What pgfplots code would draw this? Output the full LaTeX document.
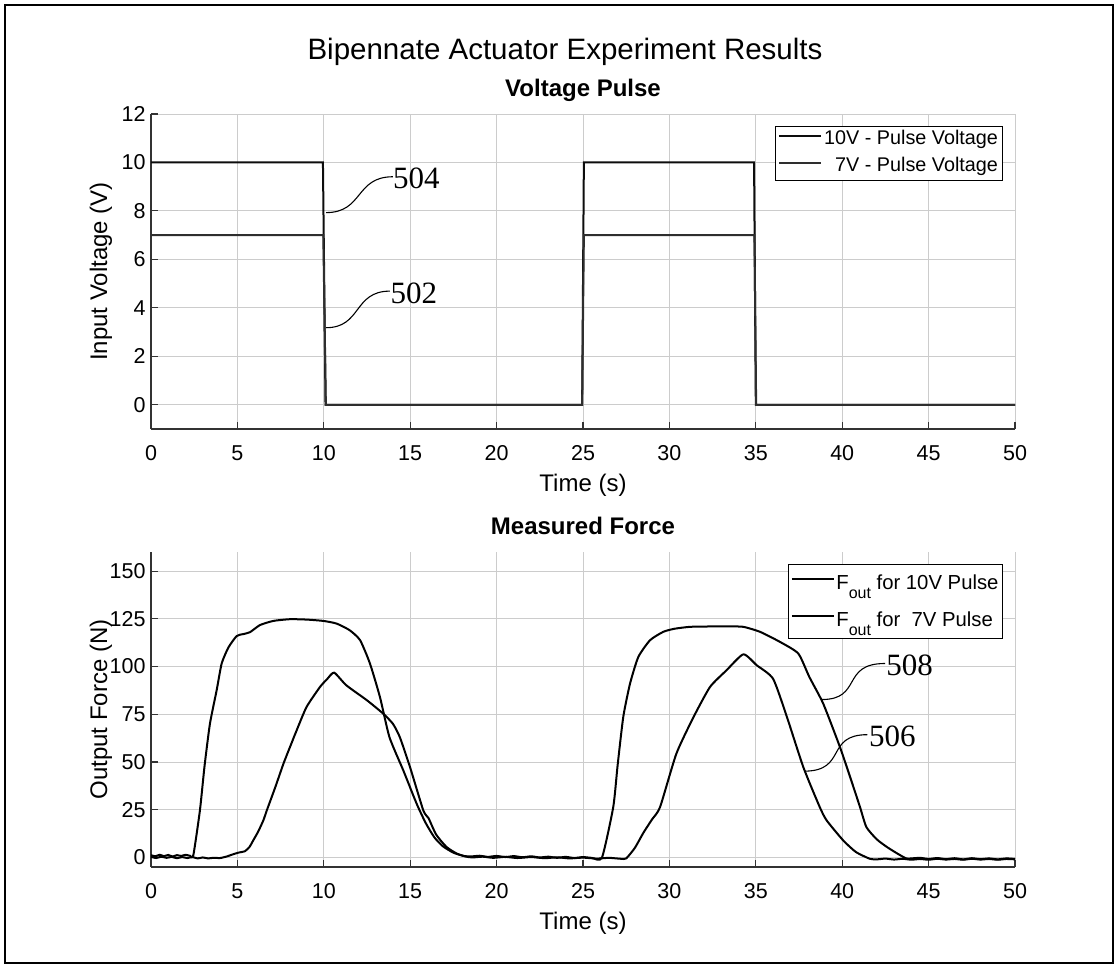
\documentclass[border=0pt]{standalone}
\usepackage{fontspec}
\setmainfont{Liberation Sans}
\newfontfamily\annofont{Liberation Serif}
\usepackage{pgfplots}
\pgfplotsset{compat=1.18}
\pgfplotsset{
 mybase/.style={
  scale only axis, width=864pt, height=315pt,
  xmin=0, xmax=50, xtick={0,5,...,50},
  axis x line*=bottom, axis y line*=left,
  axis line style={color=black!80, line width=1.1pt},
  grid=major, major grid style={color=black!20, line width=0.9pt},
  tick align=inside, major tick length=7pt,
  every tick/.style={color=black!80, line width=1.1pt},
  /pgf/number format/assume math mode=true,
  ticklabel style={font=\fontsize{21.5}{22}\selectfont, color=black},
  xticklabel style={anchor=base, yshift=-32pt},
  yticklabel style={xshift=-2pt},
  xlabel style={font=\fontsize{24}{24}\selectfont, at={(axis description cs:0.5,0)}, anchor=base, yshift=-63pt},
  ylabel style={font=\fontsize{24}{24}\selectfont, at={(axis description cs:-0.0579,0.5)}, anchor=center},
  title style={font=\bfseries\fontsize{24}{24}\selectfont, at={(axis description cs:0.5,1)}, anchor=base, yshift=11pt},
  legend image code/.code={\draw[#1, line width=2pt] (0pt,0.35em) -- (42pt,0.35em);},
 }
}
\begin{document}
\begin{tikzpicture}
\path[use as bounding box] (0pt,0pt) rectangle (1118pt,968pt);
\draw[line width=2.5pt] (5pt,5pt) rectangle (1113pt,963pt);
\node[font=\fontsize{29.5}{30}\selectfont, anchor=base] at (565pt,908pt) {Bipennate Actuator Experiment Results};

% ---------------- Voltage Pulse ----------------
\begin{axis}[mybase,
  at={(151pt,539pt)}, anchor=south west,
  ymin=-1, ymax=12, ytick={0,2,...,12},
  title={Voltage Pulse},
  xlabel={Time (s)}, ylabel={Input Voltage (V)},
  legend cell align=right,
  legend style={at={(rel axis cs:1,1)}, anchor=north east, xshift=-12pt, yshift=-12pt,
    draw=black, line width=1pt, font=\fontsize{19.8}{20}\selectfont,
    inner xsep=2.5pt, inner ysep=0pt,
    nodes={inner xsep=2pt, inner ysep=3.5pt, text height=15pt, text depth=5pt}},
]
\addplot[color=black!95, line width=2pt] coordinates {
(0,10) (9.95,10) (10.1,0) (24.95,0) (25.05,10) (34.9,10) (35.0,0) (50,0)};
\addlegendentry{10V - Pulse Voltage}
\addplot[color=black!82, line width=2pt] coordinates {
(0,7) (9.97,7) (10.12,0) (24.95,0) (25.05,7) (34.92,7) (35.02,0) (50,0)};
\addlegendentry{7V - Pulse Voltage}
\draw[line width=1.1pt] (axis cs:10.13,7.93) .. controls (axis cs:12.3,7.93) and (axis cs:11.8,9.41) .. (axis cs:14.0,9.41);
\node[anchor=west, inner sep=0pt, font=\annofont\fontsize{31}{31}\selectfont] at (axis cs:14.0,9.35) {504};
\draw[line width=1.1pt] (axis cs:10.13,3.18) .. controls (axis cs:12.2,3.18) and (axis cs:11.7,4.69) .. (axis cs:13.83,4.69);
\node[anchor=west, inner sep=0pt, font=\annofont\fontsize{31}{31}\selectfont] at (axis cs:13.85,4.6) {502};
\end{axis}

% ---------------- Measured Force ----------------
\begin{axis}[mybase,
  at={(151pt,101pt)}, anchor=south west,
  ymin=-5, ymax=160, ytick={0,25,...,150},
  title={Measured Force},
  xlabel={Time (s)}, ylabel={Output Force (N)},
  legend cell align=left,
  legend style={at={(rel axis cs:1,1)}, anchor=north east, xshift=-12pt, yshift=-12pt,
    draw=black, line width=1pt, font=\fontsize{20.3}{21}\selectfont,
    inner xsep=2.5pt, inner ysep=0pt,
    nodes={inner xsep=1.5pt, inner ysep=1.5pt, text height=24pt, text depth=10pt}},
]
\addplot[color=black, line width=2pt, smooth, tension=0.35] coordinates {
(0,1.2)(0.25,0.6)(0.5,1.4)(0.75,0.7)(1,1.3)(1.25,0.5)(1.5,1.2)(1.75,0.8)(2,1.4)(2.25,0.9)(2.45,1.2)
(2.83,24.6)(3.1,48)(3.41,70)(3.8,87.6)(4.09,101.6)(4.48,110)(4.96,116)(5.34,117)(5.73,118)(6.3,121.7)
(7.08,123.9)(8.04,124.8)(9.0,124.6)(9.97,123.9)(10.74,122.5)(11.5,119)(12.1,113.8)(12.67,101.6)
(13.25,84)(13.8,63)(14.6,45.6)(15.38,28)(15.9,18)(16.4,10.5)(16.9,5.8)(17.5,2.5)(18.1,0.8)(18.5,0.5)
(19,0.9)(19.5,0.3)(20,0.8)(20.5,0.2)(21,0.7)(21.5,0.1)(22,0.6)(22.5,0)(23,0.4)(23.5,-0.2)(24,0.3)
(24.5,-0.3)(25,0.2)(25.5,-0.2)(26.1,0)
(26.75,26.4)(27.0,48)(27.33,73.6)(27.72,91)(28.2,105)(28.88,113.8)(29.65,118.2)(30.3,119.8)(31.2,120.8)
(32.5,121)(33.5,121)(34.28,120.8)(35.24,118.2)(36.4,112.9)(37.46,106.8)(38.1,94.5)(38.9,80.6)
(39.87,57.8)(40.5,41)(41.03,26.4)(41.4,15.9)(42.0,9.5)(42.6,5.4)(43.2,2)(43.7,-0.5)(44,-0.5)
(44.5,-0.2)(45,-0.8)(45.5,-0.3)(46,-0.9)(46.5,-0.4)(47,-1)(47.5,-0.4)(48,-0.9)(48.5,-0.5)(49,-1)(49.5,-0.5)(50,-0.8)};
\addlegendentry{F\raisebox{-9pt}{\fontsize{16}{16}\selectfont out} for 10V Pulse}
\addplot[color=black, line width=2pt, smooth, tension=0.35] coordinates {
(0,0.3)(0.3,-0.3)(0.6,0.4)(0.9,-0.2)(1.2,0.3)(1.5,-0.4)(1.8,0.2)(2.1,-0.3)(2.4,0.2)(2.7,-0.5)(3,0)
(3.3,-0.5)(3.6,-0.2)(4,-0.3)(4.38,0.5)(4.7,1.5)(5.05,2.5)(5.44,3.3)(5.7,5.5)(5.92,9)(6.2,13.5)(6.5,19.4)
(6.7,24.6)(7.2,37)(7.66,49)(8.05,58)(8.43,66.6)(9.0,78.8)(9.78,89.3)(10.2,93.5)(10.6,96.8)(11.3,90.2)
(12.5,82.3)(13.44,75.3)(14.0,70)(14.4,63)(14.99,47.3)(15.76,24.6)(16.06,20.6)(16.5,12)(17.1,5.5)
(17.7,2)(18.2,0.5)(18.6,0)(19.2,0.4)(19.8,-0.2)(20.5,0.3)(21.2,-0.3)(22,0.2)(22.8,-0.4)(23.5,0.1)
(24.2,-0.5)(25,-0.1)(25.8,-0.6)(26.5,-0.2)(27.2,-0.7)(27.5,-0.5)
(28.0,5)(28.5,13)(29.0,20)(29.46,26.4)(30.4,54.3)(31.4,73.6)(32.35,89.3)(33.3,98)(34.28,106.4)
(35.05,100.7)(36.0,93.6)(36.8,73.6)(37.75,47.3)(38.7,26.4)(39.1,19.4)(40.06,8.9)(40.8,2.8)(41.6,-0.7)
(42,-1)(42.5,-0.6)(43,-1.1)(43.5,-0.7)(44,-1.2)(44.5,-0.8)(45,-1.2)(45.5,-0.7)(46,-1.1)(46.5,-0.8)
(47,-1.2)(47.5,-0.7)(48,-1.1)(48.5,-0.8)(49,-1.2)(49.5,-0.8)(50,-1)};
\addlegendentry{F\raisebox{-9pt}{\fontsize{16}{16}\selectfont out} for \ 7V Pulse}
\draw[line width=1.1pt] (axis cs:38.8,82.7) .. controls (axis cs:41.2,82.7) and (axis cs:39.9,101.6) .. (axis cs:42.48,101.6);
\node[anchor=west, inner sep=0pt, font=\annofont\fontsize{31}{31}\selectfont] at (axis cs:42.55,100.5) {508};
\draw[line width=1.1pt] (axis cs:37.8,45.2) .. controls (axis cs:40.3,45.2) and (axis cs:39.0,64.3) .. (axis cs:41.45,64.3);
\node[anchor=west, inner sep=0pt, font=\annofont\fontsize{31}{31}\selectfont] at (axis cs:41.55,63.5) {506};
\end{axis}
\end{tikzpicture}
\end{document}
